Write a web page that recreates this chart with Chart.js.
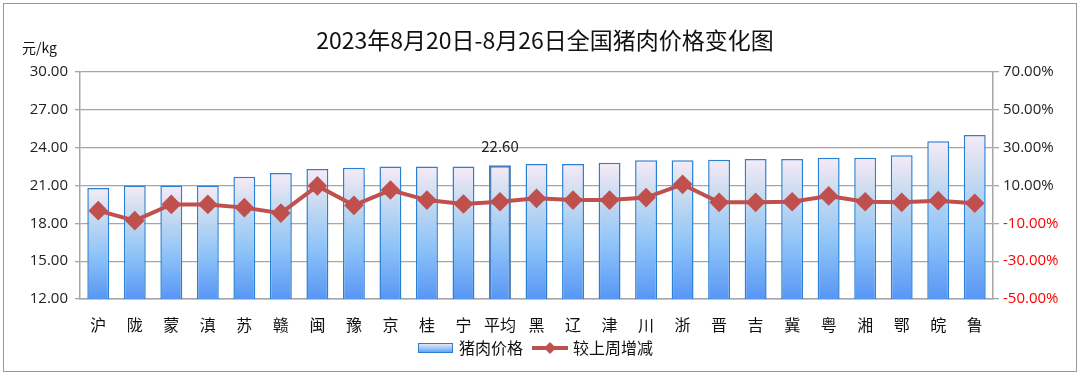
<!DOCTYPE html>
<html>
<head>
<meta charset="utf-8">
<script src="https://cdn.jsdelivr.net/npm/chart.js@4/dist/chart.umd.min.js"></script>
<style>
  html, body { margin: 0; padding: 0; background: #fff; }
  #wrap { width: 1080px; height: 377px; }
</style>
</head>
<body>
<div id="wrap"><canvas id="porkChart" width="1080" height="377"></canvas></div>
<script>
// data
const provinces = ['沪', '陇', '蒙', '滇', '苏', '赣', '闽', '豫', '京', '桂', '宁', '平均', '黑', '辽', '津', '川', '浙', '晋', '吉', '冀', '粤', '湘', '鄂', '皖', '鲁'];
const prices = [20.8, 21.0, 21.0, 21.0, 21.7, 22.0, 22.3, 22.4, 22.5, 22.5, 22.5, 22.6, 22.7, 22.7, 22.8, 23.0, 23.0, 23.05, 23.1, 23.1, 23.2, 23.2, 23.4, 24.5, 25.0];
const weekChange = [-3.3, -8.6, 0.0, 0.0, -1.7, -4.6, 9.8, -0.5, 7.6, 2.3, 0.2, 1.4, 3.2, 2.3, 2.3, 3.6, 10.6, 1.1, 1.1, 1.4, 4.5, 1.4, 1.1, 2.0, 0.6];
const priceTicks = [12, 15, 18, 21, 24, 27, 30];
const changeTicks = [-50, -30, -10, 10, 30, 50, 70];

const titleText = '2023年8月20日-8月26日全国猪肉价格变化图';
const unitText = '元/kg';
const avgIndex = provinces.indexOf('平均');

const cjk = '"Noto Sans CJK SC", "Noto Sans", sans-serif';
const gridGray = '#a6a6a6';

function barGradient(ctx, top, bottom) {
    const g = ctx.createLinearGradient(0, top, 0, bottom);
    g.addColorStop(0, '#f7eaf7');
    g.addColorStop(0.25, '#c9dbf0');
    g.addColorStop(0.6, '#8fc4f8');
    g.addColorStop(1, '#5896f5');
    return g;
}

// title, unit, value label, legend and frame
const decorations = {
    id: 'decorations',
    afterDraw(chart) {
        const ctx = chart.ctx;
        ctx.save();

        ctx.strokeStyle = '#9a9a9a';
        ctx.lineWidth = 1;
        ctx.strokeRect(3.5, 3.5, 1073, 368);

        ctx.fillStyle = '#111';
        ctx.textBaseline = 'middle';
        ctx.textAlign = 'center';
        ctx.font = '23px ' + cjk;
        ctx.fillText(titleText, 545, 40);

        ctx.textAlign = 'left';
        ctx.font = '14px ' + cjk;
        ctx.fillText(unitText, 22, 48);

        // value label above the average bar
        const bar = chart.getDatasetMeta(1).data[avgIndex];
        ctx.textAlign = 'center';
        ctx.font = '15px ' + cjk;
        ctx.fillStyle = '#222';
        ctx.fillText(prices[avgIndex].toFixed(2), bar.x, bar.y - 19);

        // legend
        const ly = 348;
        ctx.fillStyle = barGradient(ctx, ly - 5, ly + 5);
        ctx.fillRect(418, ly - 5, 35, 10);
        ctx.strokeStyle = '#2d7fd0';
        ctx.lineWidth = 1;
        ctx.strokeRect(418.5, ly - 4.5, 34, 9);
        ctx.fillStyle = '#111';
        ctx.textAlign = 'left';
        ctx.font = '16px ' + cjk;
        ctx.fillText(chart.data.datasets[1].label, 459, ly);

        ctx.strokeStyle = '#c0504d';
        ctx.lineWidth = 4;
        ctx.beginPath();
        ctx.moveTo(532, ly);
        ctx.lineTo(568, ly);
        ctx.stroke();
        ctx.fillStyle = '#c0504d';
        ctx.beginPath();
        ctx.moveTo(550, ly - 6);
        ctx.lineTo(556, ly);
        ctx.lineTo(550, ly + 6);
        ctx.lineTo(544, ly);
        ctx.closePath();
        ctx.fill();
        ctx.fillStyle = '#111';
        ctx.fillText(chart.data.datasets[0].label, 573, ly);

        ctx.restore();
    }
};

new Chart(document.getElementById('porkChart'), {
    data: {
        labels: provinces,
        datasets: [
            {
                type: 'line',
                label: '较上周增减',
                data: weekChange,
                yAxisID: 'y1',
                borderColor: '#c0504d',
                backgroundColor: '#c0504d',
                borderWidth: 4,
                pointStyle: 'rectRot',
                pointRadius: 7,
                pointHoverRadius: 7,
                tension: 0,
                order: 0
            },
            {
                type: 'bar',
                label: '猪肉价格',
                data: prices,
                yAxisID: 'y',
                backgroundColor: (c) => {
                    const chart = c.chart;
                    if (!chart.chartArea || c.parsed == null) return '#88c0fa';
                    const top = chart.scales.y.getPixelForValue(c.parsed.y);
                    return barGradient(chart.ctx, top, chart.chartArea.bottom);
                },
                borderColor: (c) => c.dataIndex === avgIndex ? '#4a7ebb' : '#2a80d2',
                borderWidth: (c) => c.dataIndex === avgIndex ? 2.5 : 1.5,
                barPercentage: 0.6,
                categoryPercentage: 1,
                order: 1
            }
        ]
    },
    options: {
        responsive: false,
        animation: false,
        devicePixelRatio: 1,
        layout: { padding: { top: 72, left: 0, right: 0, bottom: 0 } },
        plugins: {
            legend: { display: false },
            title: { display: false },
            tooltip: { enabled: false }
        },
        scales: {
            x: {
                grid: { display: false },
                border: { display: true, color: gridGray, width: 1.5 },
                ticks: { color: '#111', font: { size: 16, family: cjk }, padding: 8, maxRotation: 0, autoSkip: false },
                afterFit: (s) => { s.height = 78; }
            },
            y: {
                position: 'left',
                min: 12,
                max: 30,
                afterBuildTicks: (s) => { s.ticks = priceTicks.map(v => ({ value: v })); },
                grid: { color: gridGray, lineWidth: 1.3, tickLength: 5 },
                border: { display: true, color: gridGray, width: 1.5 },
                ticks: {
                    color: '#222',
                    padding: 7,
                    font: { size: 15, family: '"Open Sans", sans-serif' },
                    callback: (v) => Number(v).toFixed(2)
                },
                afterFit: (s) => { s.width = 80; }
            },
            y1: {
                position: 'right',
                min: -50,
                max: 70,
                afterBuildTicks: (s) => { s.ticks = changeTicks.map(v => ({ value: v })); },
                grid: { drawOnChartArea: false, color: gridGray, lineWidth: 1.3, tickLength: 6 },
                border: { display: true, color: gridGray, width: 1.5 },
                ticks: {
                    padding: 4,
                    font: { size: 15, family: '"Open Sans", sans-serif' },
                    color: (c) => c.tick && c.tick.value < 0 ? '#ff0000' : '#222',
                    callback: (v) => Number(v).toFixed(2) + '%'
                },
                afterFit: (s) => { s.width = 87; }
            }
        }
    },
    plugins: [decorations]
});
</script>
</body>
</html>
